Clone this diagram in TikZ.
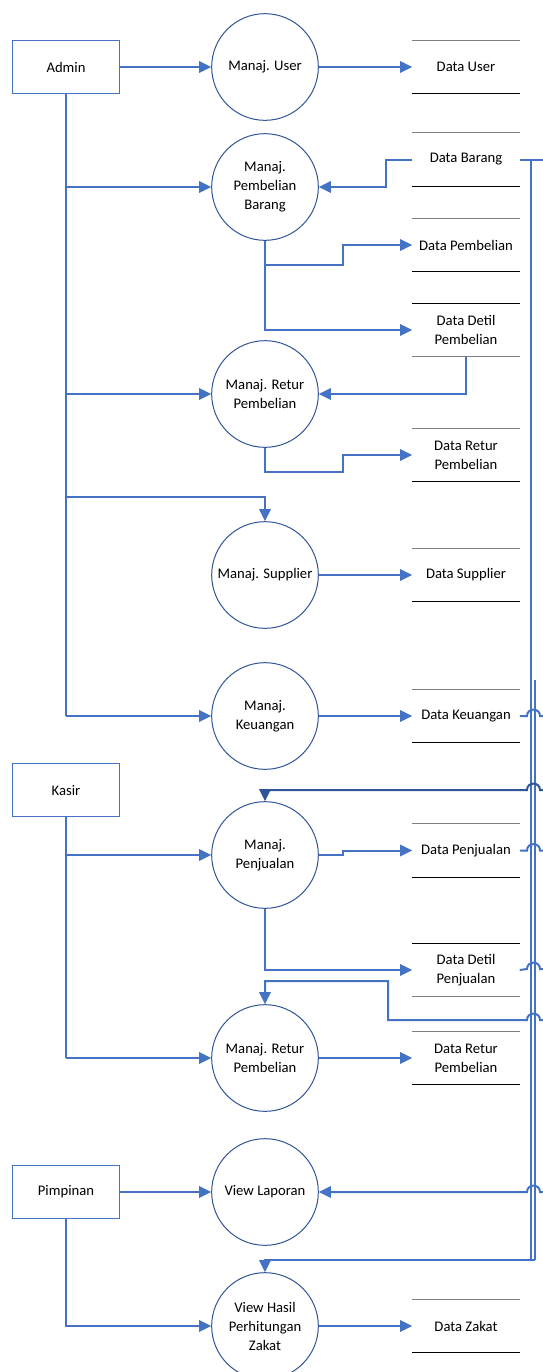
\documentclass[tikz,border=0pt]{standalone}
\usepackage{fontspec}
\setmainfont{Carlito}
\usetikzlibrary{arrows.meta}
\definecolor{lb}{HTML}{4472C4}
\definecolor{db}{HTML}{2F5597}
\definecolor{sg}{HTML}{7F7F7F}
\begin{document}
\begin{tikzpicture}[x=0.75pt,y=-0.75pt,
 every node/.style={font=\fontsize{11}{14.25}\selectfont, align=center, inner sep=0pt},
 proc/.style={circle, draw=db, line width=0.75pt, minimum size=80pt},
 ent/.style={rectangle, draw=lb, line width=0.9pt, minimum width=80.25pt, minimum height=39.75pt},
 store/.style={minimum width=80.25pt, minimum height=39.75pt},
 flow/.style={draw=lb, line width=1.5pt, -{Triangle[length=9pt,width=8.5pt]}},
 dflow/.style={draw=db, line width=1.5pt, -{Triangle[length=9pt,width=8.5pt]}},
 conn/.style={draw=lb, line width=1.5pt},
 slg/.style={line width=0.9pt, draw=sg},
 slk/.style={line width=0.9pt, draw=black}]
\useasboundingbox (0,0) rectangle (543,1372);
\clip (0,0) rectangle (543,1372);
% entities
\node[ent] (admin) at (66,67) {Admin};
\node[ent] (kasir) at (66,790) {Kasir};
\node[ent] (pim) at (66,1192) {Pimpinan};
% processes
\node[proc] (muser) at (265,67) {Manaj. User};
\node[proc] (mpb) at (265,187) {Manaj.\\Pembelian\\Barang};
\node[proc] (mrp) at (265,394) {Manaj. Retur\\Pembelian};
\node[proc] (msup) at (265,575) {Manaj. Supplier};
\node[proc] (mkeu) at (265,716) {Manaj.\\Keuangan};
\node[proc] (mpen) at (265,855) {Manaj.\\Penjualan};
\node[proc] (mrp2) at (265,1058) {Manaj. Retur\\Pembelian};
\node[proc] (vl) at (265,1192) {View Laporan};
\node[proc] (vhz) at (265,1326) {View Hasil\\Perhitungan\\Zakat};
% stores
\node[store] (duser) at (466,67) {Data User};
\node[store] (dbar) at (466,159.5) {Data Barang};
\node[store] (dpem) at (466,245) {Data Pembelian};
\node[store] (ddp) at (466,330) {Data Detil\\Pembelian};
\node[store] (drp) at (466,455) {Data Retur\\Pembelian};
\node[store] (dsup) at (466,575) {Data Supplier};
\node[store] (dkeu) at (466,716) {Data Keuangan};
\node[store] (dpen) at (466,850.5) {Data Penjualan};
\node[store] (ddpen) at (466,970) {Data Detil\\Penjualan};
\node[store] (drp2) at (466,1058) {Data Retur\\Pembelian};
\node[store] (dz) at (466,1326) {Data Zakat};
\foreach \s in {duser,dbar,dpem,drp,dsup,dkeu,dpen,drp2,dz}{
  \draw[slg] (\s.north west) -- (\s.north east);
  \draw[slk] (\s.south west) -- (\s.south east);
}
\foreach \s in {ddp,ddpen}{
  \draw[slk] (\s.north west) -- (\s.north east);
  \draw[slg] (\s.south west) -- (\s.south east);
}
% coordinates
\coordinate (sup) at (66,497);
\coordinate (hopA) at (560,716);
\coordinate (hopB) at (560,790);
\coordinate (hopC) at (560,850.5);
\coordinate (hopD) at (560,969);
\coordinate (hopE) at (560,1020);
\coordinate (hopF) at (560,1192);
\coordinate (vbar) at (531,159.5);
\coordinate (v2) at (535,680);
% admin flows
\draw[flow] (admin.east) -- (muser.west);
\draw[conn] (admin.south) -- (admin.south |- mkeu.west);
\draw[flow] (admin.south |- mpb.west) -- (mpb.west);
\draw[flow] (admin.south |- mrp.west) -- (mrp.west);
\draw[flow] (sup) -| (msup.north);
\draw[flow] (admin.south |- mkeu.west) -- (mkeu.west);
\draw[flow] (muser.east) -- (duser.west);
\draw[flow] (dbar.west) -- ++(-26,0) |- (mpb.east);
\draw[flow] (mpb.south) |- (343,265) |- (dpem.west);
\draw[flow] (mpb.south) |- (ddp.west);
\draw[flow] (ddp.south) |- (mrp.east);
\draw[flow] (mrp.south) |- (343,472) |- (drp.west);
\draw[flow] (msup.east) -- (dsup.west);
\draw[flow] (mkeu.east) -- (dkeu.west);
% kasir flows
\draw[conn] (kasir.south) -- (kasir.south |- mrp2.west);
\draw[flow] (kasir.south |- mpen.west) -- (mpen.west);
\draw[flow] (kasir.south |- mrp2.west) -- (mrp2.west);
\draw[flow] (mpen.east) -- (343,855) |- (dpen.west);
\draw[flow] (mpen.south) |- (ddpen.west);
\draw[flow] (mrp2.east) -- (drp2.west);
% pimpinan flows
\draw[flow] (pim.east) -- (vl.west);
\draw[flow] (pim.south) |- (vhz.west);
\draw[flow] (vhz.east) -- (dz.west);
% right-hand long connectors
\draw[conn] (dbar.east) -- (560,159.5);
\draw[conn] (vbar) -- (531,1260) -- (535,1260);
\draw[conn] (v2) -- (535,1260);
\draw[flow] (535,1260) -| (vhz.north);
\draw[conn] (dkeu.east) -- (527,716) .. controls (527,707.5) and (540,707.5) .. (540,716) -- (hopA);
\draw[dflow] (hopB) -- (540,790) .. controls (540,781.5) and (527,781.5) .. (527,790) -| (mpen.north);
\draw[conn] (dpen.east) -- (527,850.5) .. controls (527,842) and (540,842) .. (540,850.5) -- (hopC);
\draw[conn] (ddpen.east) -- (527,969) .. controls (527,960.5) and (540,960.5) .. (540,969) -- (hopD);
\draw[flow] (hopE) -- (540,1020) .. controls (540,1011.5) and (527,1011.5) .. (527,1020) -- (388,1020) -- (388,981) -| (mrp2.north);
\draw[flow] (hopF) -- (540,1192) .. controls (540,1183.5) and (527,1183.5) .. (527,1192) -- (vl.east);
\end{tikzpicture}
\end{document}
